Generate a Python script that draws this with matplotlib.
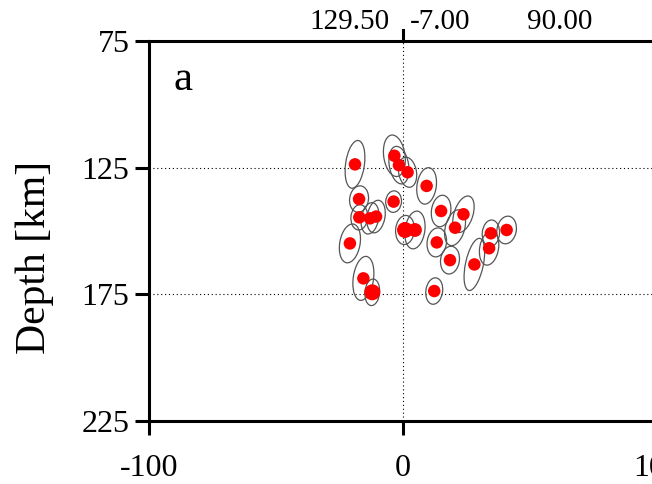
"""Depth section of relocated events with error ellipses (panel a)."""
import matplotlib
matplotlib.use("Agg")
import matplotlib.pyplot as plt
from matplotlib.patches import Ellipse

plt.rcParams["font.family"] = ["Liberation Serif", "DejaVu Serif"]

# along-profile distance [km] and depth [km] of each event
dist = [-18.9, -3.4, -1.6, 1.8, 9.3, -17.3, -3.7, -17.2, -13.0, -10.6, -20.9,
        0.8, 4.7, 15.0, 23.8, 20.5, 13.3, 18.5, 28.1, 34.6, 33.9, 40.8,
        -15.6, -12.1, 12.3]
depth = [123.7, 120.3, 124.0, 126.8, 132.2, 137.4, 138.4, 144.6, 145.0, 144.3,
         154.9, 149.6, 149.6, 142.1, 143.4, 148.7, 154.5, 161.5, 163.2, 150.9,
         156.8, 149.6, 168.7, 174.2, 173.7]
# error ellipse axes [km] and tilt [deg]
err_x = [7.4, 8.4, 7.6, 7.0, 7.6, 7.4, 6.2, 6.6, 6.8, 7.0, 8.0,
         7.4, 7.8, 7.6, 7.4, 7.6, 7.6, 7.4, 7.0, 6.8, 7.4, 7.6,
         8.0, 5.8, 6.6]
err_z = [19.0, 16.5, 15.0, 12.0, 14.5, 10.5, 8.5, 10.0, 12.5, 13.0, 15.5,
         11.5, 15.0, 12.5, 15.0, 14.5, 11.5, 11.0, 21.0, 10.5, 13.5, 11.0,
         17.5, 10.5, 10.5]
tilt = [8, -8, -10, -10, 8, 8, 5, 5, 10, 10, 10,
        5, 8, 8, 18, 15, 8, 8, 12, 5, 10, 10,
        8, 5, 8]
# marker diameters [pt]
msize = [9, 9, 9, 9, 9, 9, 9, 9, 9, 9, 9,
         11.5, 10, 9, 9, 9, 9, 9, 9, 9, 9, 9,
         9, 11.5, 9]

profile_text = ["129.50", "-7.00", "90.00"]

fig = plt.figure(figsize=(6.52, 4.84), dpi=100)
ax = fig.add_axes([149 / 652, 1 - 421 / 484, 508 / 652, 380 / 484])

ax.set_xlim(-100, 100)
ax.set_ylim(225, 75)

for x0 in [0]:
    ax.axvline(x0, color="black", lw=0.8, ls=(0, (1, 2.5)), zorder=1)
for y0 in [125, 175]:
    ax.axhline(y0, color="black", lw=0.8, ls=(0, (1, 2.5)), zorder=1)

for x, z, ex, ez, a in zip(dist, depth, err_x, err_z, tilt):
    ax.add_patch(Ellipse((x, z), ex, ez, angle=a, fill=False,
                         edgecolor="#555555", lw=0.9, zorder=2))
ax.scatter(dist, depth, s=[m ** 2 for m in msize], color="red",
           edgecolor="none", zorder=3)

ax.set_xticks([-100, 0, 100])
ax.set_xticklabels(["-100", "0", "100"])
ax.set_yticks([75, 125, 175, 225])
for side in ["left", "bottom", "top"]:
    ax.spines[side].set_linewidth(2.2)
ax.spines["right"].set_visible(False)
ax.tick_params(axis="both", direction="out", length=10, width=2.2,
               labelsize=23)
ax.tick_params(axis="x", pad=14)
ax.tick_params(axis="y", pad=4)

# single tick on top spine at profile centre
ax.plot([0, 0], [1, 1.03], transform=ax.get_xaxis_transform(),
        color="black", lw=2.2, clip_on=False)

fig.text(390 / 652, 1 - 29 / 484, profile_text[0], ha="right",
         va="baseline", fontsize=21)
fig.text(410 / 652, 1 - 29 / 484, profile_text[1], ha="left",
         va="baseline", fontsize=21)
fig.text(527 / 652, 1 - 29 / 484, profile_text[2], ha="left",
         va="baseline", fontsize=21)

fig.text(35 / 652, 1 - 257 / 484, "Depth [km]", rotation=90,
         ha="center", va="center", fontsize=30)
ax.text(183 / 652, 1 - 80 / 484, "a", transform=fig.transFigure,
        ha="center", va="center", fontsize=31)

fig.savefig("out.png", dpi=100)
